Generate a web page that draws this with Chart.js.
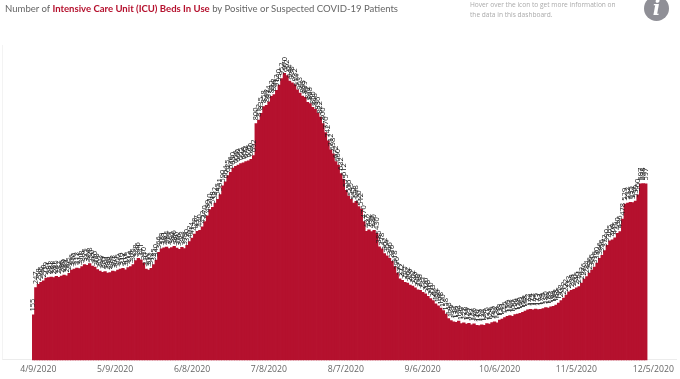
<!DOCTYPE html>
<html>
<head>
<meta charset="utf-8">
<script src="https://cdn.jsdelivr.net/npm/chart.js@4/dist/chart.umd.min.js"></script>
<style>
html,body{margin:0;padding:0;background:#fff;width:680px;height:379px;overflow:hidden}
#wrap{position:relative;width:680px;height:379px;overflow:hidden}
canvas{position:absolute;left:0;top:0}
.t{position:absolute;white-space:nowrap;font-family:"Open Sans",sans-serif}
#title{left:5px;top:2px;font-family:Lato,sans-serif;font-size:9.55px;line-height:14px;color:#666}
#title b{color:#b5112e;font-weight:700}
#note{left:470px;top:0;font-size:6.6px;line-height:9.5px;color:#aaa}
#icon{position:absolute;left:644px;top:-4px;width:25px;height:25px;border-radius:50%;background:#8f8f96;color:#fff;text-align:center;font:italic 700 20px/25px "DejaVu Serif",serif}
#frame{position:absolute;left:2px;top:45px;width:674px;height:314px;border-left:1px solid #f3f3f3;border-bottom:1px solid #ececec}
</style>
</head>
<body>
<div id="wrap">
<div id="frame"></div>
<canvas id="c" width="680" height="379"></canvas>
<div class="t" id="title">Number of <b>Intensive Care Unit (ICU) Beds In Use</b> by Positive or Suspected COVID-19 Patients</div>
<div class="t" id="note">Hover over the icon to get more information on<br>the data in this dashboard.</div>
<div id="icon">i</div>
</div>
<script>
const tickLabels = ["4/9/2020","5/9/2020","6/8/2020","7/8/2020","8/7/2020","9/6/2020","10/6/2020","11/5/2020","12/5/2020"];
const bedsInUse = [
155,247,258,265,270,279,281,283,281,285,
282,286,289,287,295,306,310,313,311,318,
325,322,328,320,316,308,303,299,301,296,
298,303,301,306,310,312,307,315,318,325,
338,346,341,330,310,306,312,325,340,366,
378,381,384,379,382,386,380,376,383,379,
390,402,414,428,437,440,452,470,489,510,
518,532,545,561,590,604,625,636,650,656,
660,665,668,672,675,680,692,800,812,835,
858,862,874,892,898,912,930,952,970,962,
944,938,932,914,903,893,889,872,868,855,
848,836,822,800,770,742,712,698,672,660,
632,612,575,556,545,532,538,520,512,470,
437,442,436,440,430,385,378,362,354,346,
336,318,296,277,272,265,262,256,252,246,
240,238,231,226,218,210,203,192,186,178,
170,158,143,136,132,130,134,126,128,124,
127,122,125,120,119,122,120,126,124,129,
132,128,138,141,146,150,153,150,156,158,
160,164,168,172,174,172,175,173,174,176,
180,178,182,184,188,195,203,212,222,233,
238,241,246,251,262,276,284,296,306,316,
330,346,356,372,390,405,408,415,430,436,
478,529,532,535,534,539,560,597,598,597
];
const categories = [];
for (let d = new Date(2020,3,9), i = 0; i <= bedsInUse.length; i++, d.setDate(d.getDate()+1)) {
  categories.push((d.getMonth()+1)+"/"+d.getDate()+"/"+d.getFullYear());
}
const barLabels = {
  id:"barLabels",
  afterDatasetsDraw(chart){
    const ctx = chart.ctx, meta = chart.getDatasetMeta(0);
    ctx.save();
    ctx.font = '7.5px "Open Sans",sans-serif';
    ctx.fillStyle = "#1c1c1c";
    ctx.textAlign = "left";
    ctx.textBaseline = "middle";
    meta.data.forEach((el,i)=>{
      const v = bedsInUse[i];
      if (v == null) return;
      ctx.save();
      ctx.translate(el.x, el.y-3);
      ctx.rotate(-Math.PI/2);
      ctx.fillText(String(v),0,0);
      ctx.restore();
    });
    ctx.restore();
  }
};
new Chart(document.getElementById("c"),{
  type:"bar",
  data:{labels:categories,datasets:[{
    data:bedsInUse,
    backgroundColor:"#b5112e",
    borderWidth:0,
    inflateAmount:0,
    barPercentage:1.3,
    categoryPercentage:1
  }]},
  plugins:[barLabels],
  options:{
    responsive:false,
    animation:false,
    layout:{padding:{left:32,right:30.4,top:40,bottom:0}},
    plugins:{legend:{display:false},tooltip:{enabled:false},title:{display:false}},
    scales:{
      y:{display:false,min:0,max:1081},
      x:{
        grid:{display:false,drawTicks:false},
        border:{display:false},
        ticks:{
          autoSkip:false,maxRotation:0,minRotation:0,padding:4,labelOffset:5,
          color:"#666",font:{family:'"Open Sans",sans-serif',size:8.7},
          callback(value){const l=categories[value];return tickLabels.includes(l)?l:null;}
        }
      }
    }
  }
});
</script>
</body>
</html>
